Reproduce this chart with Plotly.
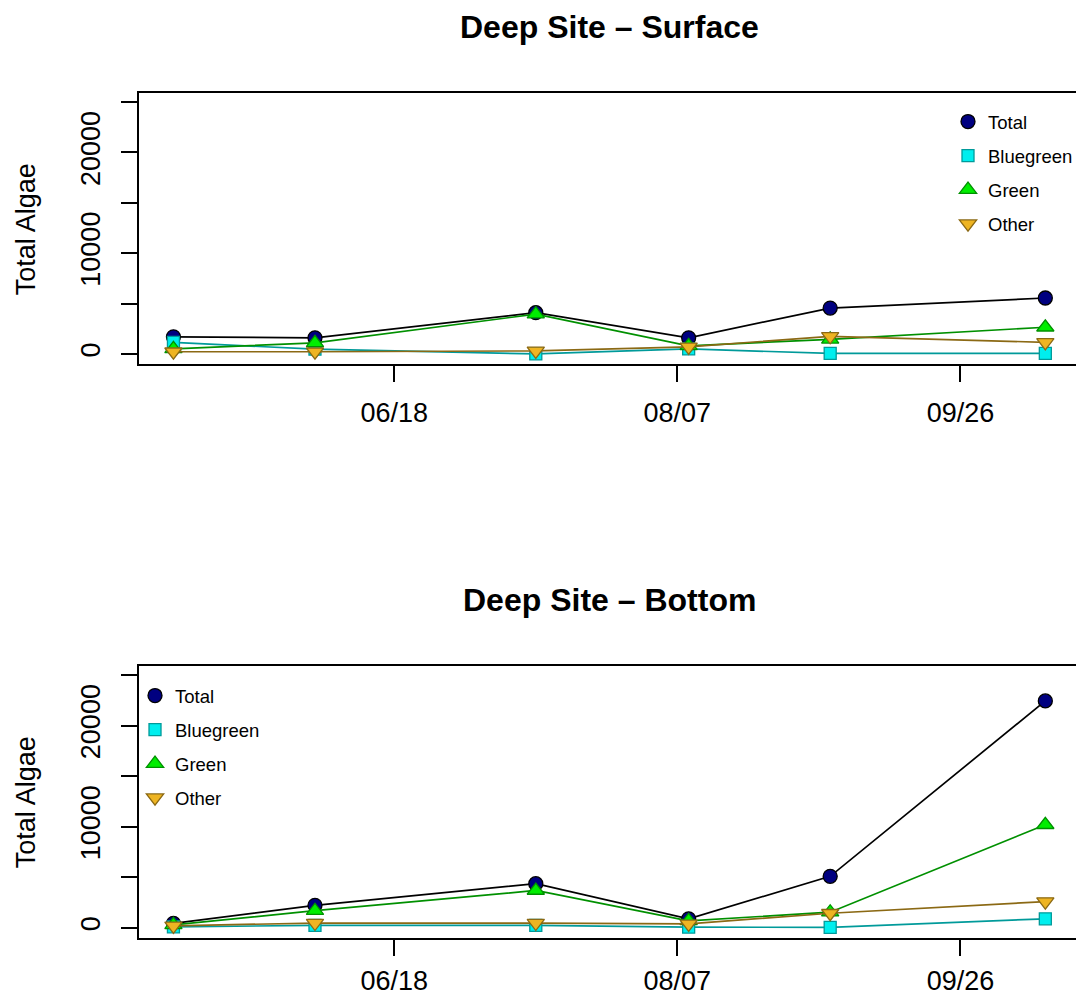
import plotly.graph_objects as go

# ---- data ----
dates = ["2016-05-10", "2016-06-04", "2016-07-13", "2016-08-09", "2016-09-03", "2016-10-11"]
series_names = ["Total", "Bluegreen", "Green", "Other"]

surface_total = [1700, 1600, 4100, 1600, 4550, 5550]
surface_bluegreen = [1150, 470, 0, 500, 50, 50]
surface_green = [510, 1100, 3950, 800, 1450, 2650]
surface_other = [215, 215, 300, 700, 1750, 1150]

bottom_total = [450, 2230, 4370, 900, 5100, 22450]
bottom_bluegreen = [100, 250, 250, 80, 50, 900]
bottom_green = [300, 1700, 3700, 700, 1550, 10200]
bottom_other = [200, 480, 480, 400, 1450, 2600]

x_tick_vals = ["2016-06-18", "2016-08-07", "2016-09-26"]
x_tick_text = ["06/18", "08/07", "09/26"]
y_tick_vals = [0, 5000, 10000, 15000, 20000, 25000]
y_tick_text = ["0", "", "10000", "", "20000", ""]

panel_titles = ["Deep Site \u2013 Surface", "Deep Site \u2013 Bottom"]
y_title = "Total Algae"

# ---- styles ----
styles = {
    "Total": dict(symbol="circle", size=14, fill="#000080", edge="#000000", line="#000000"),
    "Bluegreen": dict(symbol="square", size=12, fill="#00EEEE", edge="#009A9A", line="#009A9A"),
    "Green": dict(symbol="triangle-up", size=15, fill="#00EE00", edge="#009000", line="#009000"),
    "Other": dict(symbol="triangle-down", size=15, fill="#EEB422", edge="#8B6914", line="#8B6914"),
}

FONT = "Liberation Sans, Arial, Helvetica, sans-serif"
W, H = 1078, 999
ML, MR, MT, MB = 139, 0, 93, 61

fig = go.Figure()

panels = [
    ("x", "y", "legend", [surface_total, surface_bluegreen, surface_green, surface_other]),
    ("x2", "y2", "legend2", [bottom_total, bottom_bluegreen, bottom_green, bottom_other]),
]

for xa, ya, leg, vals in panels:
    for name, v in zip(series_names, vals):
        st = styles[name]
        fig.add_trace(go.Scatter(
            x=dates, y=v, mode="lines", xaxis=xa, yaxis=ya,
            line=dict(color=st["line"], width=1.7), showlegend=False, hoverinfo="skip"))
        fig.add_trace(go.Scatter(
            x=dates, y=v, mode="markers", name=name, xaxis=xa, yaxis=ya,
            legend=leg, legendgroup=leg + name,
            marker=dict(symbol=st["symbol"], size=st["size"], color=st["fill"],
                        line=dict(color=st["edge"], width=1.3))))

plot_h = H - MT - MB
def py(px):
    return (H - MB - px) / plot_h
def pxx(px):
    return (px - ML) / (W - ML - MR)

top_dom = [py(364), 1.0]
bot_dom = [0.0, py(666)]

x_range = ["2016-05-03 22:00", "2016-10-16 10:00"]
y_range = [-1000, 25900]

xcommon = dict(type="date", range=x_range, tickmode="array", tickvals=x_tick_vals,
               ticktext=x_tick_text, ticks="outside", ticklen=16, tickwidth=2,
               tickcolor="black", showline=True, linewidth=2, linecolor="black",
               mirror=True, showgrid=False, zeroline=False,
               tickfont=dict(family=FONT, size=27, color="black"), fixedrange=True)
ycommon = dict(range=y_range, tickmode="array", tickvals=y_tick_vals, ticktext=y_tick_text,
               ticks="outside", ticklen=16, tickwidth=2, tickcolor="black",
               showline=True, linewidth=2, linecolor="black", mirror=False,
               showgrid=False, zeroline=False, tickangle=-90, ticklabelstandoff=10,
               tickfont=dict(family=FONT, size=27, color="black"), fixedrange=True)

fig.update_layout(
    width=W, height=H, autosize=False,
    margin=dict(l=ML, r=MR, t=MT, b=MB, pad=0),
    paper_bgcolor="white", plot_bgcolor="white",
    font=dict(family=FONT, color="black"),
    xaxis=dict(domain=[0, 1], anchor="y", ticklabelstandoff=8, **xcommon),
    yaxis=dict(domain=top_dom, anchor="x", **ycommon),
    xaxis2=dict(domain=[0, 1], anchor="y2", ticklabelstandoff=2, **xcommon),
    yaxis2=dict(domain=bot_dom, anchor="x2", **ycommon),
    legend=dict(x=pxx(950), y=py(103), xanchor="left", yanchor="top",
                bgcolor="rgba(0,0,0,0)", borderwidth=0, traceorder="grouped",
                tracegroupgap=7, font=dict(family=FONT, size=18.5, color="black"),
                itemwidth=30),
    legend2=dict(x=pxx(135), y=py(677), xanchor="left", yanchor="top",
                 bgcolor="rgba(0,0,0,0)", borderwidth=0, traceorder="grouped",
                 tracegroupgap=7, font=dict(family=FONT, size=18.5, color="black"),
                 itemwidth=30),
    showlegend=True,
)

annotations = []
for title, cy in zip(panel_titles, [27, 600]):
    annotations.append(dict(text="<b>%s</b>" % title, x=pxx(611), y=py(cy), xref="paper",
                            yref="paper", xanchor="center", yanchor="middle", showarrow=False,
                            font=dict(family=FONT, size=32, color="black")))
for cy in [229, 802]:
    annotations.append(dict(text=y_title, x=pxx(26), y=py(cy), xref="paper", yref="paper",
                            xanchor="center", yanchor="middle", textangle=-90, showarrow=False,
                            font=dict(family=FONT, size=27, color="black")))
fig.update_layout(annotations=annotations)

fig.write_html("out.html", config={"displayModeBar": False})
